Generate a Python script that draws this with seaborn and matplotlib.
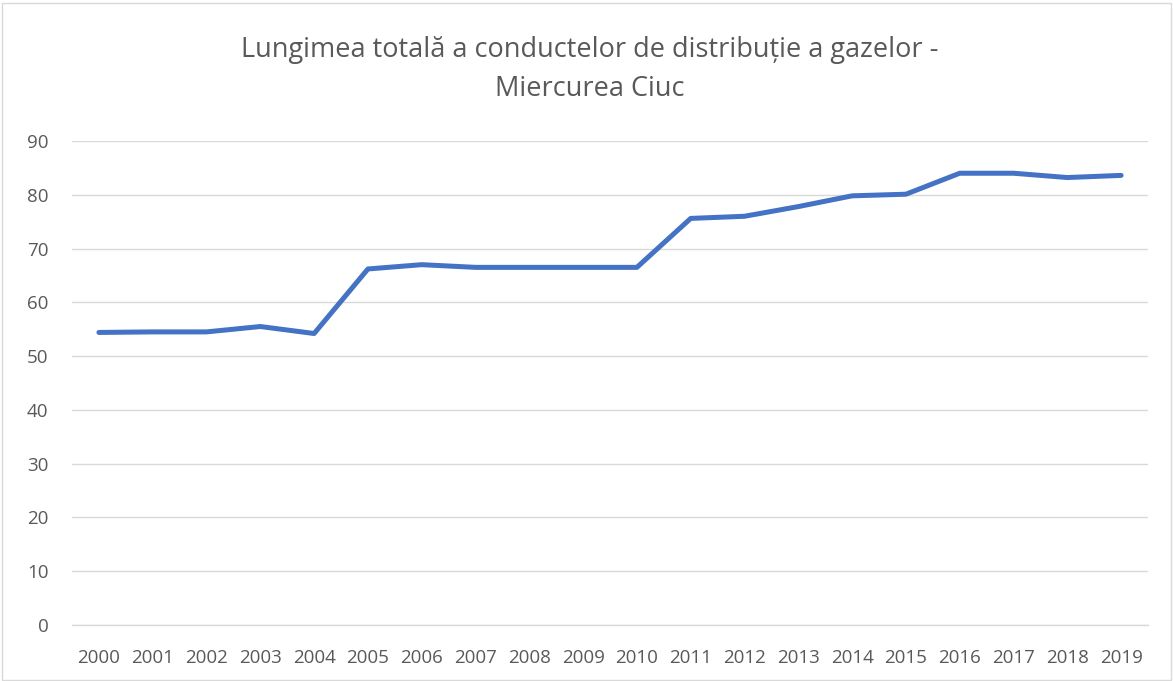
import matplotlib
matplotlib.use("Agg")
import matplotlib.pyplot as plt
from matplotlib.patches import Rectangle
import seaborn as sns
import pandas as pd

years = [str(y) for y in range(2000, 2020)]
lengths = [54.4, 54.5, 54.5, 55.5, 54.2, 66.2, 67.0, 66.5, 66.5, 66.5,
           66.5, 75.6, 76.0, 77.8, 79.8, 80.1, 84.0, 84.0, 83.2, 83.6]
y_ticks = [0, 10, 20, 30, 40, 50, 60, 70, 80, 90]
title_lines = ["Lungimea totală a conductelor de distribuție a gazelor -",
               "Miercurea Ciuc"]

df = pd.DataFrame({"An": years, "Lungime": lengths})

sns.set_style("white")
plt.rcParams["font.family"] = ["Open Sans", "DejaVu Sans"]

fig = plt.figure(figsize=(11.73, 6.81), dpi=100)
ax = fig.add_axes([0.0614, 0.0822, 0.9173, 0.7108])

sns.lineplot(data=df, x="An", y="Lungime", ax=ax, color="#4472C4",
             linewidth=3.6, solid_capstyle="round", solid_joinstyle="round")

ax.set_xlim(-0.5, len(years) - 0.5)
ax.set_ylim(0, 90)
ax.set_yticks(y_ticks)
ax.set_yticklabels([str(t) for t in y_ticks])
ax.grid(axis="y", color="#D9D9D9", linewidth=1)
ax.set_axisbelow(True)
for side in ["top", "right", "left"]:
    ax.spines[side].set_visible(False)
ax.spines["bottom"].set_color("#D9D9D9")
ax.spines["bottom"].set_linewidth(1)
ax.tick_params(axis="both", length=0, labelsize=13.5, colors="#595959")
ax.tick_params(axis="y", pad=17)
ax.tick_params(axis="x", pad=17)
ax.set_xlabel("")
ax.set_ylabel("")

fig.text(0.503, 0.926, title_lines[0], ha="center", va="center",
         fontsize=19.5, color="#595959")
fig.text(0.503, 0.870, title_lines[1], ha="center", va="center",
         fontsize=19.5, color="#595959")

fig.patches.append(Rectangle((0.002, 0.002), 0.996, 0.994, transform=fig.transFigure,
                             fill=False, edgecolor="#D9D9D9", linewidth=1))

fig.savefig("out.png", dpi=100)
